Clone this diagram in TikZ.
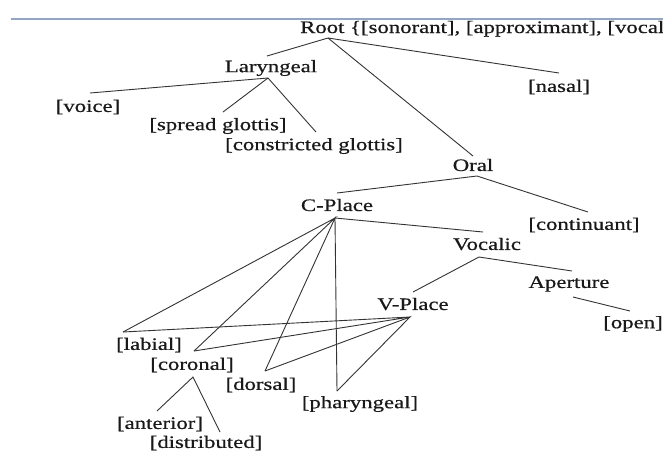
\documentclass[tikz,border=0pt]{standalone}
\usepackage{fontspec}
\setmainfont{Liberation Serif}[FakeStretch=1.3,FakeBold=0.6]
\definecolor{rulegray}{HTML}{94A6C2}
\begin{document}
\begin{tikzpicture}[x=1pt,y=-1pt]
	\tikzstyle{every node}+=[inner sep=0pt,text=black!90,font=\fontsize{17.5}{20}\selectfont]
	\useasboundingbox (0,0) rectangle (663,451);
	\draw [rulegray,line width=2pt] (11,19) -- (663,19);
	% feature labels
	\node [anchor=base west] (root) at (300,33) {Root \{[sonorant], [approximant], [vocal};
	\node (lar) at (271,68) {Laryngeal};
	\node (voice) at (88,107) {[voice]};
	\node (spread) at (218,126) {[spread glottis]};
	\node (constr) at (314,146) {[constricted glottis]};
	\node (nasal) at (559,87) {[nasal]};
	\node (oral) at (473,165) {Oral};
	\node (cplace) at (337,205) {C-Place};
	\node (cont) at (584,225) {[continuant]};
	\node (voc) at (487,244) {Vocalic};
	\node (vplace) at (413,304) {V-Place};
	\node (apert) at (569,284) {Aperture};
	\node (open) at (633,324) {[open]};
	\node (labial) at (149,345) {[labial]};
	\node (coronal) at (192,365) {[coronal]};
	\node (dorsal) at (261,385) {[dorsal]};
	\node (phar) at (360,404) {[pharyngeal]};
	\node (ant) at (160,424) {[anterior]};
	\node (dist) at (206,443) {[distributed]};
	% line ends
	\coordinate (root-j) at (328,38);
	\coordinate (lar-t) at (267,56);
	\coordinate (lar-j) at (268,78);
	\coordinate (voice-t) at (90,93);
	\coordinate (spread-t) at (223,112);
	\coordinate (constr-t) at (316,132);
	\coordinate (nasal-t) at (559,73);
	\coordinate (oral-t) at (473,156);
	\coordinate (oral-j) at (477,176);
	\coordinate (cplace-t) at (337,193);
	\coordinate (cplace-j) at (335,218);
	\coordinate (cont-t) at (588,212);
	\coordinate (voc-t) at (483,232);
	\coordinate (voc-j) at (479,257);
	\coordinate (vplace-t) at (413,292);
	\coordinate (vplace-j) at (410,317);
	\coordinate (apert-t) at (572,271);
	\coordinate (apert-j) at (573,297);
	\coordinate (open-t) at (630,311);
	\coordinate (labial-t) at (123,332);
	\coordinate (coronal-t) at (194,351);
	\coordinate (coronal-j) at (193,377);
	\coordinate (dorsal-t) at (265,371);
	\coordinate (phar-t) at (337,391);
	\coordinate (ant-t) at (157,411);
	\coordinate (dist-t) at (220,432);
	% branches
	\tikzstyle{branch}=[black!80,line width=0.9pt]
	\draw [branch] (lar-t) -- (root-j) -- (nasal-t);
	\draw [branch] (root-j) -- (oral-t);
	\draw [branch] (voice-t) -- (lar-j) -- (constr-t);
	\draw [branch] (lar-j) -- (spread-t);
	\draw [branch] (cplace-t) -- (oral-j) -- (cont-t);
	\draw [branch] (cplace-j) -- (voc-t);
	\draw [branch] (vplace-t) -- (voc-j) -- (apert-t);
	\draw [branch] (apert-j) -- (open-t);
	\draw [branch] (labial-t) -- (cplace-j) -- (coronal-t);
	\draw [branch] (dorsal-t) -- (cplace-j) -- (phar-t);
	\draw [branch] (labial-t) -- (vplace-j) -- (coronal-t);
	\draw [branch] (dorsal-t) -- (vplace-j) -- (phar-t);
	\draw [branch] (ant-t) -- (coronal-j) -- (dist-t);
\end{tikzpicture}
\end{document}
